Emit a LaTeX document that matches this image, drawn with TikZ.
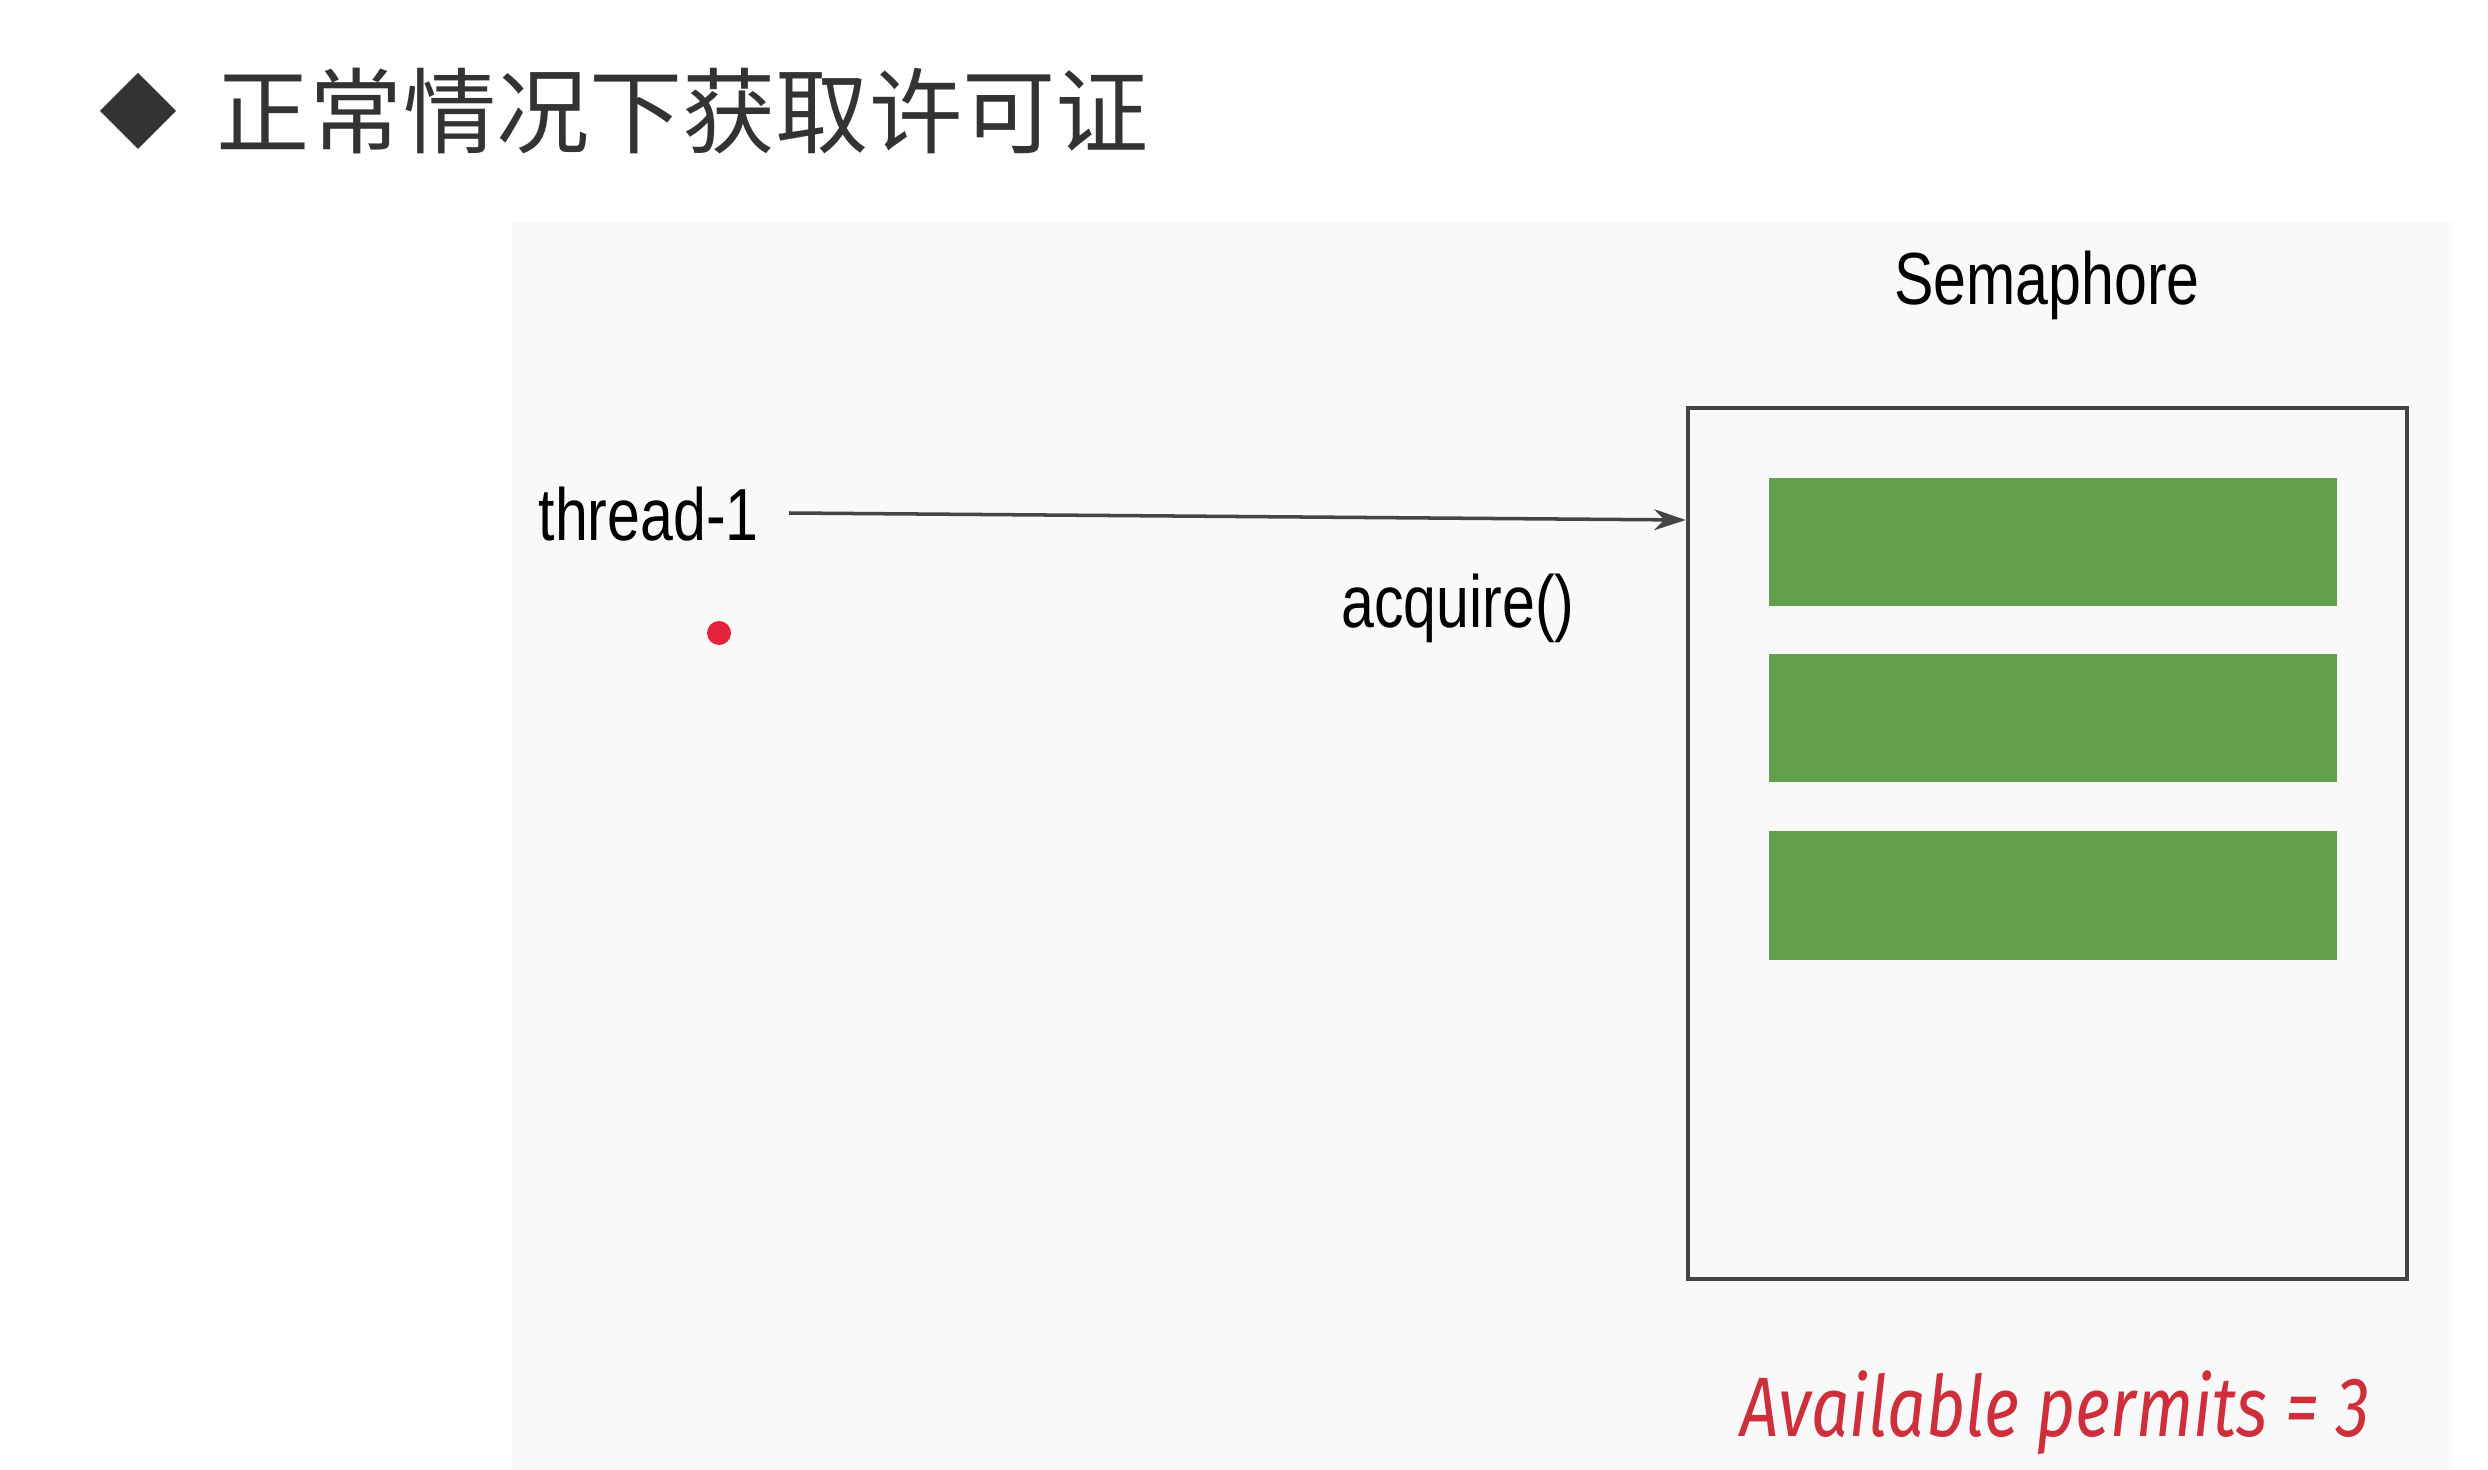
\documentclass[tikz,border=0pt]{standalone}
\usepackage{fontspec}
\usetikzlibrary{arrows.meta}
\newfontfamily\titlefont{Noto Sans CJK SC}
\newfontfamily\labelfont[FakeStretch=0.8]{Liberation Sans}
\newfontfamily\notefont[FakeStretch=0.8]{Fira Sans Italic}
\definecolor{panelgray}{HTML}{F9F9FA}
\definecolor{titlegray}{HTML}{333333}
\definecolor{linegray}{HTML}{454545}
\definecolor{permitgreen}{HTML}{62A04C}
\definecolor{dotred}{HTML}{E5223E}
\definecolor{notered}{HTML}{CF2F3A}
\begin{document}
\begin{tikzpicture}[x=0.01cm,y=-0.01cm,
  lbl/.style={inner sep=0pt, font=\labelfont\fontsize{21pt}{24pt}\selectfont, text=black},
  permit/.style={fill=permitgreen, draw=none, minimum width=5.68cm, minimum height=1.28cm, inner sep=0pt},
  conn/.style={draw=linegray, line width=1pt, -{Stealth[length=9pt,width=6pt]}}]
  % page and light panel
  \useasboundingbox (0,0) rectangle (2488,1470);
  \fill[white] (0,0) rectangle (2488,1470);
  \fill[panelgray] (512,222) rectangle (2452,1470);

  % heading
  \fill[titlegray] (138,73) -- (176,111) -- (138,149) -- (100,111) -- cycle;
  \node[anchor=west, inner sep=0pt, text=titlegray,
        font=\titlefont\fontsize{26.5pt}{30pt}\selectfont] (title) at (216,111) {正常情况下获取许可证};

  % semaphore with its permits
  \node[lbl, anchor=base] (semlabel) at (2047,305) {Semaphore};
  \node[draw=linegray, line width=1.2pt, minimum width=7.19cm, minimum height=8.71cm, inner sep=0pt] (sem) at (2047.5,843.5) {};
  \node[permit] (p1) at (2053,542) {};
  \node[permit] (p2) at (2053,718) {};
  \node[permit] (p3) at (2053,895.5) {};

  % thread and its call
  \node[lbl, anchor=base west] (thread) at (538,540) {thread-1};
  \coordinate (tail) at (789,513);
  \coordinate (headlevel) at (0,520);
  \draw[conn] (tail) -- (sem.west |- headlevel);
  \node[lbl, anchor=base] (acq) at (1458,627) {acquire()};
  \fill[dotred] (719,633) circle (12);
  \node[inner sep=0pt] (dot) at (719,633) {};

  % counter
  \node[anchor=base, inner sep=0pt, text=notered,
        font=\notefont\fontsize{24pt}{27pt}\selectfont] (count) at (2055,1436) {Available permits = 3};
\end{tikzpicture}
\end{document}
